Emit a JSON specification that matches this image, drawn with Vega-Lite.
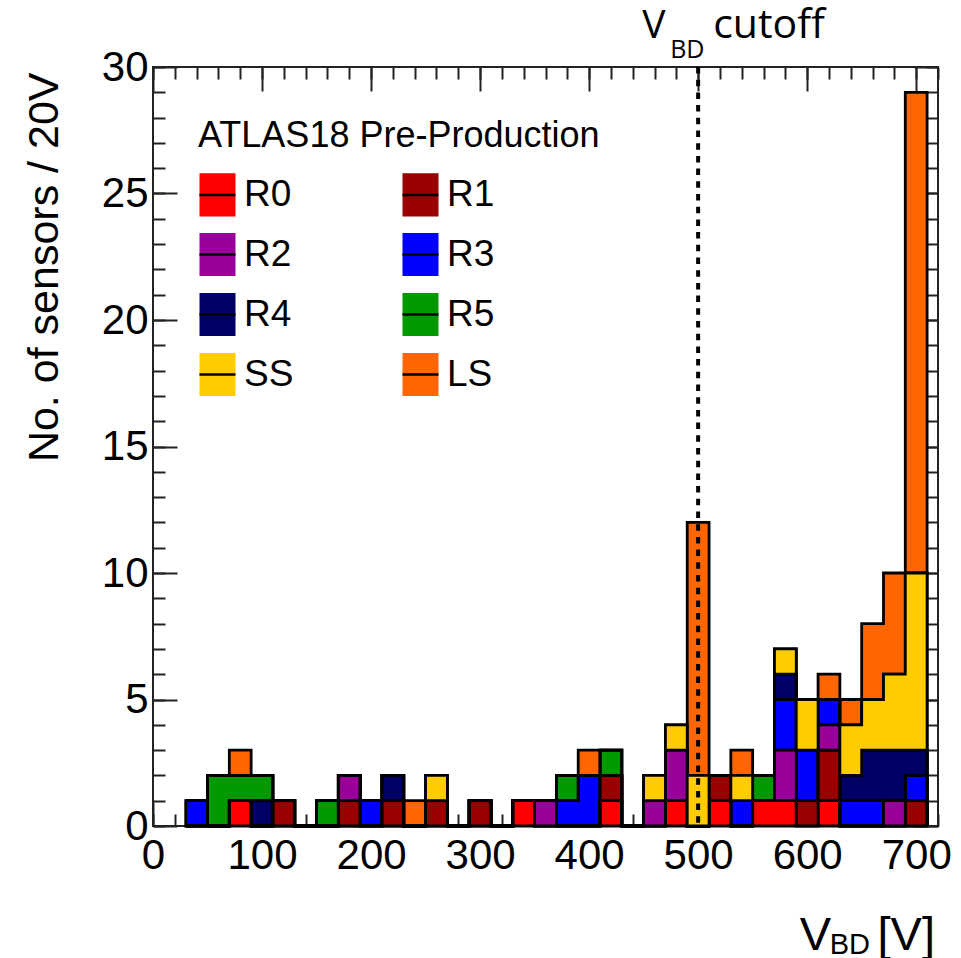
{
  "$schema": "https://vega.github.io/schema/vega-lite/v6.json",
  "width": 785,
  "height": 759,
  "autosize": {"type": "none"},
  "padding": {"left": 153, "top": 67, "right": 23, "bottom": 132},
  "background": "white",
  "config": {
    "view": {"stroke": "#222", "strokeWidth": 2},
    "axis": {
      "grid": false,
      "domain": false,
      "tickColor": "#222",
      "tickWidth": 2,
      "labelFont": "Liberation Sans",
      "labelFontSize": 42,
      "labelColor": "black",
      "labelFlush": false,
      "labelOverlap": false,
      "labelBound": false,
      "titleFont": "Liberation Sans",
      "titleFontSize": 43,
      "titleFontWeight": "normal",
      "titleColor": "black"
    }
  },
  "resolve": {"axis": {"x": "independent", "y": "independent"}},
  "layer": [
    {
      "data": {"values": [
        {"lo":30,"g":"R3","n":1},
        {"lo":50,"g":"R5","n":2},
        {"lo":70,"g":"R0","n":1},{"lo":70,"g":"R5","n":1},{"lo":70,"g":"LS","n":1},
        {"lo":90,"g":"R4","n":1},{"lo":90,"g":"R5","n":1},
        {"lo":110,"g":"R1","n":1},
        {"lo":130,"g":"R0","n":0},
        {"lo":150,"g":"R5","n":1},
        {"lo":170,"g":"R1","n":1},{"lo":170,"g":"R2","n":1},
        {"lo":190,"g":"R3","n":1},
        {"lo":210,"g":"R1","n":1},{"lo":210,"g":"R4","n":1},
        {"lo":230,"g":"LS","n":1},
        {"lo":250,"g":"R1","n":1},{"lo":250,"g":"SS","n":1},
        {"lo":270,"g":"R0","n":0},
        {"lo":290,"g":"R1","n":1},
        {"lo":310,"g":"R0","n":0},
        {"lo":330,"g":"R0","n":1},
        {"lo":350,"g":"R2","n":1},
        {"lo":370,"g":"R3","n":1},{"lo":370,"g":"R5","n":1},
        {"lo":390,"g":"R3","n":2},{"lo":390,"g":"LS","n":1},
        {"lo":410,"g":"R0","n":1},{"lo":410,"g":"R1","n":1},{"lo":410,"g":"R5","n":1},
        {"lo":430,"g":"R0","n":0},
        {"lo":450,"g":"R2","n":1},{"lo":450,"g":"SS","n":1},
        {"lo":470,"g":"R0","n":1},{"lo":470,"g":"R2","n":2},{"lo":470,"g":"SS","n":1},
        {"lo":490,"g":"SS","n":2},{"lo":490,"g":"LS","n":10},
        {"lo":510,"g":"R0","n":1},{"lo":510,"g":"R1","n":1},
        {"lo":530,"g":"R3","n":1},{"lo":530,"g":"SS","n":1},{"lo":530,"g":"LS","n":1},
        {"lo":550,"g":"R0","n":1},{"lo":550,"g":"R5","n":1},
        {"lo":570,"g":"R0","n":1},{"lo":570,"g":"R2","n":2},{"lo":570,"g":"R3","n":2},{"lo":570,"g":"R4","n":1},{"lo":570,"g":"SS","n":1},
        {"lo":590,"g":"R1","n":1},{"lo":590,"g":"R3","n":2},{"lo":590,"g":"SS","n":2},
        {"lo":610,"g":"R0","n":1},{"lo":610,"g":"R1","n":2},{"lo":610,"g":"R2","n":1},{"lo":610,"g":"R3","n":1},{"lo":610,"g":"LS","n":1},
        {"lo":630,"g":"R3","n":1},{"lo":630,"g":"R4","n":1},{"lo":630,"g":"SS","n":2},{"lo":630,"g":"LS","n":1},
        {"lo":650,"g":"R3","n":1},{"lo":650,"g":"R4","n":2},{"lo":650,"g":"SS","n":2},{"lo":650,"g":"LS","n":3},
        {"lo":670,"g":"R2","n":1},{"lo":670,"g":"R4","n":2},{"lo":670,"g":"SS","n":3},{"lo":670,"g":"LS","n":4},
        {"lo":690,"g":"R1","n":1},{"lo":690,"g":"R3","n":1},{"lo":690,"g":"R4","n":1},{"lo":690,"g":"SS","n":7},{"lo":690,"g":"LS","n":19},
        {"lo":710,"g":"R0","n":0}
      ]},
      "transform": [
        {"impute": "n", "key": "lo", "groupby": ["g"], "value": 0},
        {"calculate": "indexof(['R0','R1','R2','R3','R4','R5','SS','LS'], datum.g)", "as": "k"}
      ],
      "mark": {"type": "area", "interpolate": "step-after", "stroke": "black", "strokeWidth": 2.8, "strokeJoin": "miter", "fillOpacity": 1, "opacity": 1},
      "encoding": {
        "x": {"field": "lo", "type": "quantitative",
          "scale": {"domain": [0, 720], "nice": false, "zero": false},
          "axis": {"orient": "bottom", "values": [0,100,200,300,400,500,600,700], "tickSize": -24, "labelPadding": 33, "title": null}},
        "y": {"field": "n", "type": "quantitative", "stack": "zero",
          "scale": {"domain": [0, 30], "nice": false},
          "axis": {"orient": "left", "values": [0,5,10,15,20,25,30], "tickSize": -24, "labelPadding": 29,
            "title": "No. of sensors / 20V", "titleAngle": -90, "titleX": -96, "titleY": 5, "titleAlign": "right", "titleBaseline": "alphabetic", "titleFontSize": 43}},
        "color": {"field": "g", "type": "nominal",
          "scale": {"domain": ["R0","R1","R2","R3","R4","R5","SS","LS"],
                    "range": ["#ff0000","#990000","#990099","#0000ff","#000066","#009900","#ffcc00","#ff6600"]},
          "legend": {
            "orient": "none", "legendX": 45, "legendY": 52,
            "columns": 2, "direction": "horizontal",
            "title": "ATLAS18 Pre-Production",
            "titleFont": "Liberation Sans", "titleFontSize": 36, "titleFontWeight": "normal", "titleColor": "black", "titleLimit": 1000, "titlePadding": 20,
            "labelFont": "Liberation Sans", "labelFontSize": 37, "labelColor": "black", "labelOffset": 7, "labelLimit": 300,
            "symbolType": "M-1,0H1V1.2H-1V-1.2H1V0",
            "symbolSize": 1296,
            "symbolStrokeColor": "black", "symbolStrokeWidth": 2.5, "symbolDash": [36, 1000],
            "symbolOpacity": 1,
            "rowPadding": 5, "columnPadding": 103, "padding": 0
          }},
        "order": {"field": "k", "type": "quantitative"}
      }
    },
    {
      "data": {"values": [{}]},
      "mark": {"type": "rule", "strokeDash": [6.5, 6.2], "strokeWidth": 4, "color": "black"},
      "encoding": {
        "x": {"datum": 500, "type": "quantitative",
          "scale": {"domain": [0, 720], "nice": false, "zero": false},
          "axis": {"orient": "bottom", "values": [0,20,40,60,80,100,120,140,160,180,200,220,240,260,280,300,320,340,360,380,400,420,440,460,480,500,520,540,560,580,600,620,640,660,680,700,720], "tickSize": -12, "labels": false, "title": null}},
        "y": {"datum": 30, "type": "quantitative",
          "scale": {"domain": [0, 30], "nice": false},
          "axis": {"orient": "left", "values": [0,1,2,3,4,5,6,7,8,9,10,11,12,13,14,15,16,17,18,19,20,21,22,23,24,25,26,27,28,29,30], "tickSize": -12, "labels": false, "title": null}},
        "y2": {"datum": 0}
      }
    },
    {
      "data": {"values": [{}]},
      "mark": {"type": "text", "text": "V", "font": "Open Sans", "fontSize": 39, "align": "left", "baseline": "alphabetic", "dx": -56, "dy": -29, "color": "black"},
      "encoding": {
        "x": {"datum": 500, "type": "quantitative",
          "scale": {"domain": [0, 720], "nice": false, "zero": false},
          "axis": {"orient": "top", "values": [0,100,200,300,400,500,600,700], "tickSize": -24, "labels": false, "title": null}},
        "y": {"datum": 30, "type": "quantitative",
          "scale": {"domain": [0, 30], "nice": false},
          "axis": {"orient": "right", "values": [0,5,10,15,20,25,30], "tickSize": -24, "labels": false, "title": null}}
      }
    },
    {
      "data": {"values": [{}]},
      "mark": {"type": "text", "text": "BD", "font": "Open Sans", "fontSize": 25, "align": "left", "baseline": "alphabetic", "dx": -28, "dy": -9, "color": "black"},
      "encoding": {
        "x": {"datum": 500, "type": "quantitative",
          "scale": {"domain": [0, 720], "nice": false, "zero": false},
          "axis": {"orient": "top", "values": [0,20,40,60,80,100,120,140,160,180,200,220,240,260,280,300,320,340,360,380,400,420,440,460,480,500,520,540,560,580,600,620,640,660,680,700,720], "tickSize": -12, "labels": false, "title": null}},
        "y": {"datum": 30, "type": "quantitative",
          "scale": {"domain": [0, 30], "nice": false},
          "axis": {"orient": "right", "values": [0,1,2,3,4,5,6,7,8,9,10,11,12,13,14,15,16,17,18,19,20,21,22,23,24,25,26,27,28,29,30], "tickSize": -12, "labels": false, "title": null}}
      }
    },
    {
      "data": {"values": [{}]},
      "mark": {"type": "text", "text": "cutoff", "font": "Open Sans", "fontSize": 41, "align": "left", "baseline": "alphabetic", "dx": 15, "dy": -29, "color": "black"},
      "encoding": {
        "x": {"datum": 500, "type": "quantitative", "scale": {"domain": [0, 720], "nice": false, "zero": false}, "axis": null},
        "y": {"datum": 30, "type": "quantitative", "scale": {"domain": [0, 30], "nice": false}, "axis": null}
      }
    },
    {
      "data": {"values": [{}]},
      "mark": {"type": "text", "text": "V", "font": "Liberation Sans", "fontSize": 47, "align": "right", "baseline": "alphabetic", "dx": -107, "dy": 124, "color": "black"},
      "encoding": {
        "x": {"datum": 720, "type": "quantitative", "scale": {"domain": [0, 720], "nice": false, "zero": false}, "axis": null},
        "y": {"datum": 0, "type": "quantitative", "scale": {"domain": [0, 30], "nice": false}, "axis": null}
      }
    },
    {
      "data": {"values": [{}]},
      "mark": {"type": "text", "text": "BD", "font": "Liberation Sans", "fontSize": 29, "align": "right", "baseline": "alphabetic", "dx": -68, "dy": 128, "color": "black"},
      "encoding": {
        "x": {"datum": 720, "type": "quantitative", "scale": {"domain": [0, 720], "nice": false, "zero": false}, "axis": null},
        "y": {"datum": 0, "type": "quantitative", "scale": {"domain": [0, 30], "nice": false}, "axis": null}
      }
    },
    {
      "data": {"values": [{}]},
      "mark": {"type": "text", "text": "[V]", "font": "Liberation Sans", "fontSize": 47, "align": "right", "baseline": "alphabetic", "dx": -3, "dy": 124, "color": "black"},
      "encoding": {
        "x": {"datum": 720, "type": "quantitative", "scale": {"domain": [0, 720], "nice": false, "zero": false}, "axis": null},
        "y": {"datum": 0, "type": "quantitative", "scale": {"domain": [0, 30], "nice": false}, "axis": null}
      }
    }
  ]
}
